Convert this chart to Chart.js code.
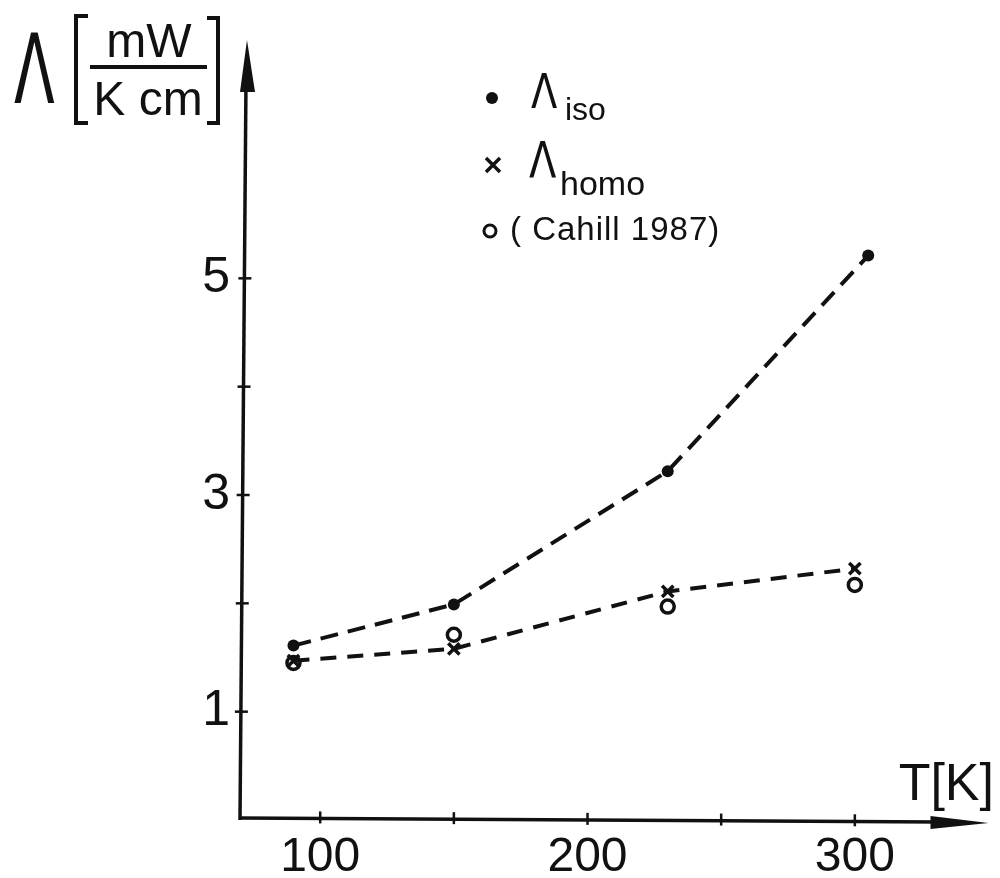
<!DOCTYPE html>
<html>
<head>
<meta charset="utf-8">
<script src="https://cdn.jsdelivr.net/npm/chart.js@4.4.1/dist/chart.umd.min.js"></script>
<style>
  body { margin: 0; background: #fff; }
  #wrap { width: 1000px; height: 878px; position: relative; }
</style>
</head>
<body>
<div id="wrap"><canvas id="chart"></canvas></div>
<script>
// data
const isoTemps = [90, 150, 230, 305];
const isoValues = [1.61, 1.99, 3.22, 5.21];
const homoTemps = [90, 150, 230, 300];
const homoValues = [1.47, 1.58, 2.11, 2.32];
const cahillTemps = [90, 150, 230, 300];
const cahillValues = [1.45, 1.71, 1.97, 2.17];

const xTickValues = [100, 150, 200, 250, 300];
const xTickLabels = ['100', '', '200', '', '300'];
const yTickValues = [1, 2, 3, 4, 5];
const yTickLabels = ['1', '', '3', '', '5'];

const ink = '#111';
const labelFont = "'Liberation Sans', Arial, sans-serif";

function toPoints(xs, ys) {
    return xs.map((x, i) => ({ x: x, y: ys[i] }));
}

// axes with arrows and crossing tick marks, titles and the hand made legend
const paperAxes = {
    id: 'paperAxes',
    afterDraw(chart) {
        const { ctx, chartArea, scales } = chart;
        const x0 = chartArea.left;
        const y0 = chartArea.bottom;
        ctx.save();
        ctx.strokeStyle = ink;
        ctx.fillStyle = ink;
        ctx.lineWidth = 3.5;

        // y axis
        ctx.beginPath();
        ctx.moveTo(x0, y0);
        ctx.lineTo(x0 + 6, chartArea.top + 40);
        ctx.stroke();
        ctx.beginPath();
        ctx.moveTo(x0 + 7, chartArea.top);
        ctx.lineTo(x0 + 15, chartArea.top + 52);
        ctx.lineTo(x0, chartArea.top + 52);
        ctx.closePath();
        ctx.fill();

        // x axis
        ctx.beginPath();
        ctx.moveTo(x0, y0 - 2);
        ctx.lineTo(chartArea.right - 50, y0 + 2);
        ctx.stroke();
        ctx.beginPath();
        ctx.moveTo(chartArea.right, y0 + 3);
        ctx.lineTo(chartArea.right - 58, y0 - 4);
        ctx.lineTo(chartArea.right - 58, y0 + 9);
        ctx.closePath();
        ctx.fill();

        ctx.lineWidth = 2.5;
        for (const v of xTickValues) {
            const px = scales.x.getPixelForValue(v);
            const dy = (px - x0) / (chartArea.right - x0) * 4 - 2;
            ctx.beginPath();
            ctx.moveTo(px, y0 + dy - 7);
            ctx.lineTo(px, y0 + dy + 5);
            ctx.stroke();
        }
        for (const v of yTickValues) {
            const py = scales.y.getPixelForValue(v);
            const dx = (y0 - py) / (y0 - chartArea.top - 40) * 6;
            ctx.beginPath();
            ctx.moveTo(x0 + dx - 6, py);
            ctx.lineTo(x0 + dx + 7, py);
            ctx.stroke();
        }

        // y title: Lambda [mW / K cm]
        ctx.save();
        ctx.translate(14, 103);
        ctx.scale(0.62, 1);
        ctx.font = "96px 'DejaVu Sans', sans-serif";
        ctx.textAlign = 'left';
        ctx.fillText('Λ', 0, 0);
        ctx.restore();

        ctx.lineWidth = 4;
        ctx.beginPath();
        ctx.moveTo(88, 16);
        ctx.lineTo(76, 16);
        ctx.lineTo(76, 123);
        ctx.lineTo(88, 123);
        ctx.moveTo(207, 18);
        ctx.lineTo(218, 18);
        ctx.lineTo(218, 123);
        ctx.lineTo(207, 123);
        ctx.moveTo(90, 67);
        ctx.lineTo(207, 67);
        ctx.stroke();

        ctx.font = '48px ' + labelFont;
        ctx.textAlign = 'center';
        ctx.textBaseline = 'alphabetic';
        ctx.fillText('mW', 149, 57);
        ctx.fillText('K cm', 148, 115);

        // x title
        ctx.font = '52px ' + labelFont;
        ctx.textAlign = 'right';
        ctx.fillText('T[K]', 994, 800);

        // legend
        ctx.textAlign = 'left';
        ctx.beginPath();
        ctx.arc(492, 98, 6, 0, Math.PI * 2);
        ctx.fill();
        ctx.lineWidth = 3.5;
        ctx.beginPath();
        ctx.moveTo(486, 158);
        ctx.lineTo(500, 172);
        ctx.moveTo(500, 158);
        ctx.lineTo(486, 172);
        ctx.stroke();
        ctx.lineWidth = 3;
        ctx.beginPath();
        ctx.arc(490, 231, 6, 0, Math.PI * 2);
        ctx.stroke();

        ctx.save();
        ctx.translate(531, 108);
        ctx.scale(0.8, 1);
        ctx.font = "48px 'DejaVu Sans', sans-serif";
        ctx.fillText('Λ', 0, 0);
        ctx.restore();
        ctx.save();
        ctx.translate(529, 177);
        ctx.scale(0.8, 1);
        ctx.font = "50px 'DejaVu Sans', sans-serif";
        ctx.fillText('Λ', 0, 0);
        ctx.restore();

        ctx.font = '32px ' + labelFont;
        ctx.fillText('iso', 565, 120);
        ctx.font = '34px ' + labelFont;
        ctx.fillText('homo', 560, 195);
        ctx.font = '33px ' + labelFont;
        ctx.letterSpacing = '1px';
        ctx.fillText('( Cahill 1987)', 510, 240);
        ctx.restore();
    }
};

new Chart(document.getElementById('chart'), {
    type: 'scatter',
    data: {
        datasets: [
            {
                label: 'iso',
                data: toPoints(isoTemps, isoValues),
                showLine: true,
                borderColor: ink,
                borderWidth: 4,
                borderDash: [18, 10],
                tension: 0,
                pointStyle: 'circle',
                pointRadius: 6,
                pointBackgroundColor: ink,
                pointBorderColor: ink,
                pointBorderWidth: 0,
                clip: false
            },
            {
                label: 'homo',
                data: toPoints(homoTemps, homoValues),
                showLine: true,
                borderColor: ink,
                borderWidth: 4,
                borderDash: [16, 11],
                tension: 0,
                pointStyle: 'crossRot',
                pointRadius: 8,
                pointBorderColor: ink,
                pointBorderWidth: 3.5,
                clip: false
            },
            {
                label: 'Cahill 1987',
                data: toPoints(cahillTemps, cahillValues),
                showLine: false,
                pointStyle: 'circle',
                pointRadius: 6.5,
                pointBackgroundColor: 'rgba(0,0,0,0)',
                pointBorderColor: ink,
                pointBorderWidth: 3.5,
                clip: false
            }
        ]
    },
    options: {
        responsive: true,
        maintainAspectRatio: false,
        animation: false,
        layout: { padding: { left: 0, top: 38, right: 7, bottom: 0 } },
        plugins: {
            legend: { display: false },
            tooltip: { enabled: false }
        },
        scales: {
            x: {
                type: 'linear',
                min: 70,
                max: 350,
                afterBuildTicks: scale => { scale.ticks = xTickValues.map(v => ({ value: v })); },
                afterFit: scale => { scale.height = 58; },
                grid: { display: false, drawTicks: false },
                border: { display: false },
                ticks: {
                    autoSkip: false,
                    maxRotation: 0,
                    padding: 9,
                    color: ink,
                    font: { family: labelFont, size: 48 },
                    callback: (value, index) => xTickLabels[index]
                }
            },
            y: {
                type: 'linear',
                min: 0,
                max: 7.2,
                afterBuildTicks: scale => { scale.ticks = yTickValues.map(v => ({ value: v })); },
                afterFit: scale => { scale.width = 240; },
                grid: { display: false, drawTicks: false },
                border: { display: false },
                ticks: {
                    autoSkip: false,
                    padding: 10,
                    color: ink,
                    font: { family: labelFont, size: 50 },
                    callback: (value, index) => yTickLabels[index]
                }
            }
        }
    },
    plugins: [paperAxes]
});
</script>
</body>
</html>
